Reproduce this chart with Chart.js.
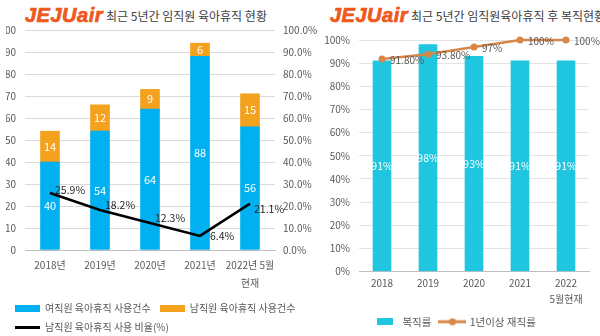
<!DOCTYPE html>
<html>
<head>
<meta charset="utf-8">
<script src="https://cdn.jsdelivr.net/npm/chart.js@4/dist/chart.umd.min.js"></script>
<style>
  body { margin: 0; background: #fff; }
  #wrap { position: relative; width: 600px; height: 336px; overflow: hidden; }
  .panel { position: absolute; top: 0; height: 336px; }
  .title { position: absolute; top: 4px; height: 22px; display: flex; align-items: center; white-space: nowrap; }
  .logo {
    font: italic bold 20px "Liberation Sans", Arial, sans-serif;
    letter-spacing: 0.5px;
    color: #f05a1e;
    -webkit-text-stroke: 0.7px #ee5418;
    margin-right: 3px;
  }
  .heading { font: 12px "Noto Sans CJK KR", sans-serif; color: #404040; }
</style>
</head>
<body>
<div id="wrap">
  <div class="title" style="left:25px"><span class="logo">JEJUair</span><span class="heading">최근 5년간 임직원 육아휴직 현황</span></div>
  <div class="title" style="left:330px"><span class="logo">JEJUair</span><span class="heading">최근 5년간 임직원육아휴직 후 복직현황</span></div>
  <div class="panel" style="left:0;width:320px"><canvas id="leaveChart" width="320" height="336"></canvas></div>
  <div class="panel" style="left:320px;width:280px"><canvas id="returnChart" width="280" height="336"></canvas></div>
</div>
<script>
// parental leave usage, last five years
var leaveYears = ['2018년', '2019년', '2020년', '2021년', ['2022년 5월', '현재']];
var femaleLeave = [40, 54, 64, 88, 56];
var maleLeave = [14, 12, 9, 6, 15];
var maleLeaveRate = [25.9, 18.2, 12.3, 6.4, 21.1];

// return to work after leave
var returnYears = ['2018', '2019', '2020', '2021', ['2022', '5월현재']];
var returnRate = [91, 98, 93, 91, 91];
var retainedRate = [91.8, 93.8, 97, 100, 100];

var countTicks = [0, 10, 20, 30, 40, 50, 60, 70, 80, 90, 100];

Chart.defaults.font.family = '"Noto Sans CJK KR", "Noto Sans", sans-serif';
Chart.defaults.color = '#595959';
Chart.defaults.animation = false;

function legendIcon(w, h, color, dot) {
    var c = document.createElement('canvas');
    c.width = w;
    c.height = dot ? dot * 2 + 1 : h;
    var g = c.getContext('2d');
    g.fillStyle = color;
    g.fillRect(0, (c.height - h) / 2, w, h);
    if (dot) {
        g.beginPath();
        g.arc(w / 2, c.height / 2, dot, 0, Math.PI * 2);
        g.fill();
    }
    return c;
}

// writes the numbers on bars and next to line points
var valueLabels = {
    id: 'valueLabels',
    afterDatasetsDraw: function(chart) {
        var ctx = chart.ctx;
        chart.data.datasets.forEach(function(ds, i) {
            var lab = ds.valueLabels;
            if (!lab) return;
            var meta = chart.getDatasetMeta(i);
            ctx.save();
            ctx.font = lab.font;
            ctx.fillStyle = lab.color;
            ctx.textBaseline = 'middle';
            meta.data.forEach(function(el, j) {
                var text = lab.format(ds.data[j]);
                if (meta.type === 'bar') {
                    ctx.textAlign = 'center';
                    ctx.fillText(text, el.x, (el.y + el.base) / 2);
                } else {
                    var off = lab.offsets ? lab.offsets[j] : lab.offset;
                    ctx.textAlign = 'left';
                    ctx.fillText(text, el.x + off[0], el.y + off[1]);
                }
            });
            ctx.restore();
        });
    }
};

function legendItems(chart) {
    return chart.data.datasets.map(function(ds, i) {
        return {
            text: ds.label,
            pointStyle: ds.legendIcon,
            fontColor: '#595959',
            lineWidth: 0,
            strokeStyle: 'rgba(0,0,0,0)',
            hidden: false,
            datasetIndex: i
        };
    });
}

new Chart(document.getElementById('leaveChart').getContext('2d'), {
    type: 'bar',
    plugins: [valueLabels],
    data: {
        labels: leaveYears,
        datasets: [{
                label: '여직원 육아휴직 사용건수',
                data: femaleLeave,
                backgroundColor: '#00b0f0',
                barThickness: 19,
                order: 1,
                legendIcon: legendIcon(25, 7, '#00b0f0'),
                valueLabels: { font: '11px "Noto Sans CJK KR"', color: '#ffffff', format: function(v) { return String(v); } }
            },
            {
                label: '남직원 육아휴직 사용건수',
                data: maleLeave,
                backgroundColor: '#f4a11e',
                barThickness: 19,
                order: 2,
                legendIcon: legendIcon(25, 7, '#f4a11e'),
                valueLabels: { font: '11px "Noto Sans CJK KR"', color: '#ffffff', format: function(v) { return String(v); } }
            },
            {
                type: 'line',
                label: '남직원 육아휴직 사용 비율(%)',
                data: maleLeaveRate,
                yAxisID: 'y1',
                borderColor: '#000000',
                borderWidth: 2.5,
                pointRadius: 0,
                order: 0,
                legendIcon: legendIcon(25, 3, '#000000'),
                valueLabels: {
                    font: '10.5px "Noto Sans CJK KR"', color: '#262626',
                    format: function(v) { return v.toFixed(1) + '%'; },
                    offsets: [[5, -3], [5, -5], [5, -5], [10, 0], [4, 5]]
                }
            }
        ]
    },
    options: {
        responsive: false,
        layout: { padding: { top: 30, left: 6, right: 0, bottom: -6 } },
        plugins: {
            tooltip: { enabled: false },
            legend: {
                position: 'bottom',
                align: 'start',
                labels: {
                    usePointStyle: true,
                    pointStyleWidth: 25,
                    padding: 9,
                    font: { size: 10 },
                    color: '#595959',
                    generateLabels: legendItems
                }
            }
        },
        scales: {
            x: {
                stacked: true,
                grid: { display: false, drawTicks: false },
                border: { color: '#bfbfbf' },
                ticks: { padding: 6, autoSkip: false, maxRotation: 0, minRotation: 0, font: { size: 10, lineHeight: 1.8 } },
                afterFit: function(s) { s.height = 44; }
            },
            y: {
                stacked: true,
                min: 0,
                max: 100,
                afterBuildTicks: function(s) { s.ticks = countTicks.map(function(v) { return { value: v }; }); },
                grid: { color: '#d9d9d9', drawTicks: false },
                border: { display: false },
                ticks: { padding: 9, font: { size: 10 } },
                afterFit: function(s) { s.width = 19; }
            },
            y1: {
                position: 'right',
                min: 0,
                max: 100,
                afterBuildTicks: function(s) { s.ticks = countTicks.map(function(v) { return { value: v }; }); },
                grid: { display: false, drawTicks: false },
                border: { display: false },
                ticks: { padding: 8, font: { size: 10 }, callback: function(v) { return v.toFixed(1) + '%'; } },
                afterFit: function(s) { s.width = 45; }
            }
        }
    }
});

new Chart(document.getElementById('returnChart').getContext('2d'), {
    type: 'bar',
    plugins: [valueLabels],
    data: {
        labels: returnYears,
        datasets: [{
                label: '복직률',
                data: returnRate,
                backgroundColor: '#20c5e0',
                barThickness: 18,
                order: 1,
                legendIcon: legendIcon(16, 7, '#20c5e0'),
                valueLabels: { font: '10.5px "Noto Sans CJK KR"', color: '#ffffff', format: function(v) { return v + '%'; } }
            },
            {
                type: 'line',
                label: '1년이상 재직률',
                data: retainedRate,
                borderColor: '#d8874a',
                backgroundColor: '#d8874a',
                borderWidth: 2.5,
                pointRadius: 3.5,
                pointBackgroundColor: '#d8874a',
                pointBorderWidth: 0,
                clip: false,
                order: 0,
                legendIcon: legendIcon(28, 3, '#d8874a', 3.5),
                valueLabels: {
                    font: '10px "Noto Sans CJK KR"', color: '#595959',
                    format: function(v) { return Number.isInteger(v) ? v + '%' : v.toFixed(2) + '%'; },
                    offset: [8, 1]
                }
            }
        ]
    },
    options: {
        responsive: false,
        layout: { padding: { top: 40, left: 0, right: 11, bottom: -1 } },
        plugins: {
            tooltip: { enabled: false },
            legend: {
                position: 'bottom',
                labels: {
                    usePointStyle: true,
                    pointStyleWidth: 24,
                    padding: 9,
                    font: { size: 10.5 },
                    color: '#595959',
                    generateLabels: legendItems
                }
            }
        },
        scales: {
            x: {
                grid: { display: false, drawTicks: false },
                border: { color: '#bfbfbf' },
                ticks: { padding: 4, autoSkip: false, maxRotation: 0, minRotation: 0, font: { size: 10, lineHeight: 1.6 } },
                afterFit: function(s) { s.height = 36; }
            },
            y: {
                min: 0,
                max: 100,
                afterBuildTicks: function(s) { s.ticks = countTicks.map(function(v) { return { value: v }; }); },
                grid: { color: '#e3e3e3', drawTicks: false },
                border: { display: false },
                ticks: { padding: 9, font: { size: 10 }, callback: function(v) { return v + '%'; } },
                afterFit: function(s) { s.width = 39; }
            }
        }
    }
});
</script>
</body>
</html>
